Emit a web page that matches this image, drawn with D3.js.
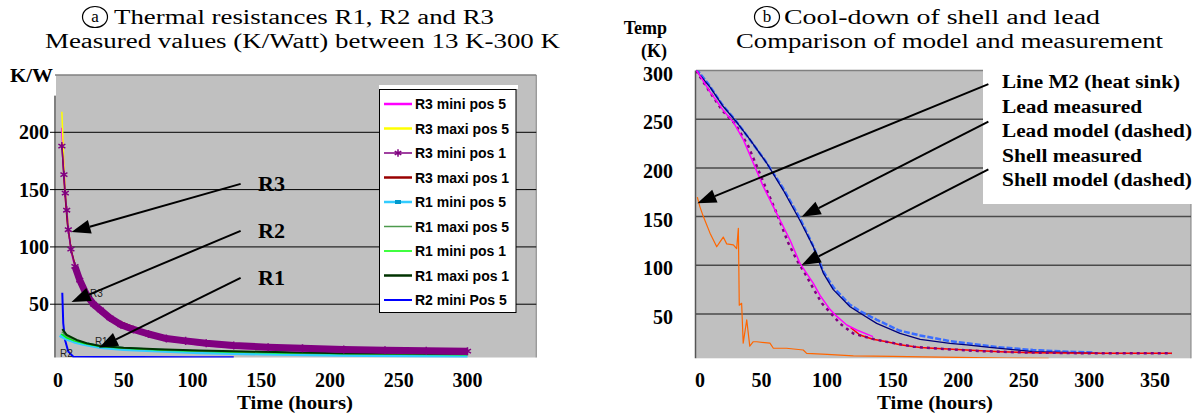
<!DOCTYPE html>
<html lang="en">
<head>
  <meta charset="UTF-8">
  <title>Thermal resistances and cool-down</title>
  <style>
    body { margin: 0; background: #fff; }
    svg { display: block; }
    .tick-lbl { font: bold 20px "Liberation Serif", "Times New Roman", serif; fill: #000; }
    .title { font: 20px "Liberation Serif", "Times New Roman", serif; fill: #000; }
    .axis-title { font: bold 18px "Liberation Serif", "Times New Roman", serif; fill: #000; }
    .leg-a { font: bold 14px "Liberation Sans", Arial, sans-serif; fill: #000; }
    .leg-b { font: bold 18px "Liberation Serif", "Times New Roman", serif; fill: #000; }
    .small { font: 10px "Liberation Sans", Arial, sans-serif; fill: #222; }
  </style>
</head>
<body>

  <div id="app"></div>

  <script src="https://cdn.jsdelivr.net/npm/d3@7/dist/d3.min.js"></script>
  <script>
    // ---- chart a : thermal resistances (hours, K/W) ----
    const r3Mini1T = [5, 6.5, 7.5, 8.5, 9.7, 11.6, 14.5, 18, 23, 28, 33, 40, 48, 57, 68, 81, 95, 110, 130, 155, 180, 210, 240, 270, 300]
    const r3Mini1V = [188, 163, 147, 132, 115, 98, 83, 71, 58, 50, 45, 38, 32, 28, 24, 20, 18, 16, 14, 12.5, 11.5, 10.5, 9.8, 9.3, 9]
    const r3Mini5T = [5, 6.5, 8, 10, 12, 15, 18, 25, 33, 45, 57, 81, 105, 130, 155, 180, 220, 260, 300]
    const r3Mini5V = [204, 165, 138, 112, 95, 80, 68, 53, 42, 32.5, 26, 18.5, 14.5, 12, 10.5, 9.5, 8.5, 7.5, 6.8]
    const r3Maxi5T = [5, 6.5, 8, 10, 12, 15, 18, 25, 33, 45, 57, 81, 105, 130, 155, 180, 220, 260, 300]
    const r3Maxi5V = [218, 170, 140, 113, 96, 81, 69, 54, 43, 33.5, 27, 19, 15, 12.6, 11, 10, 9, 8, 7.3]
    const r3Maxi1T = [5, 7, 9, 12, 16, 22, 30, 45, 70, 110, 160, 220, 300]
    const r3Maxi1V = [190, 150, 120, 96, 78, 62, 49, 36, 24, 16, 12, 10, 8.8]
    const r1Mini5T = [3.6, 5, 8.5, 14, 20.6, 33, 50, 75, 105, 150, 209, 260, 300]
    const r1Mini5V = [23, 22, 20, 17.5, 15.5, 12.6, 11, 9.5, 8, 7, 5.8, 5.2, 4.9]
    const r1Maxi5T = [5, 8.5, 15, 23, 33, 50, 75, 105, 150, 209, 300]
    const r1Maxi5V = [26, 22, 18.5, 16, 13.5, 12, 10.5, 9.2, 8.2, 7, 6.2]
    const r1Mini1T = [4.5, 8, 14, 22, 33, 50, 80, 120, 180, 250, 300]
    const r1Mini1V = [24, 21, 18, 15.5, 13, 11.5, 9.8, 8.5, 7.2, 6.3, 5.8]
    const r1Maxi1T = [5.3, 8.5, 15.8, 23, 33, 50, 75, 105, 150, 209, 260, 300]
    const r1Maxi1V = [28.2, 23.2, 18.8, 16, 13.5, 12, 10.8, 9.6, 8.5, 7.3, 6.9, 6.6]
    const r2Mini5T = [5.3, 6, 7.3, 9.7, 13.3, 30, 60, 100, 130]
    const r2Mini5V = [60, 33.4, 18.8, 8.6, 4.2, 4, 3.9, 3.8, 3.8]
    const ticksA = [50, 100, 150, 200]
    const hourTicksA = [0, 50, 100, 150, 200, 250, 300]

    // ---- chart b : cool-down (hours, K) ----
    const m2T = [1, 3, 5.6, 10.7, 15.8, 18.3, 20.8, 23.4, 28.5, 31, 32.3, 33, 34.8, 36, 38.7, 41, 43.7, 46.3, 56.4, 59, 69, 81.8, 84.4, 100, 120, 150, 173, 200, 237, 269]
    const m2V = [170, 160, 150, 133, 119, 124, 129, 122, 121, 117, 138, 59, 61, 20, 44, 17, 21.5, 21.5, 20, 14.8, 14.8, 13, 9.6, 8.5, 6.9, 6.5, 6, 5.5, 4.8, 4.5]
    const leadModelT = [0, 10, 20, 30, 40, 53, 66, 79, 89, 97, 105, 117, 125, 138, 155, 171, 194, 207, 230, 257, 280, 303]
    const leadModelV = [302, 285, 265, 249, 231, 207, 180, 149, 121, 94, 77, 60, 53, 44, 33, 28, 22, 20, 16, 13, 11.5, 10.5]
    const leadMeasT = [0, 10.7, 20.8, 31, 41.2, 53.9, 66.6, 79.3, 89.5, 97.1, 104.7, 117.5, 125, 137.8, 155.6, 171, 193.7, 206.5, 224, 257, 308]
    const leadMeasV = [300, 283, 263, 247, 229, 205, 177, 146, 119, 92, 75, 57.5, 51, 40.4, 30, 24, 19.9, 18.2, 15.8, 11.3, 9.6]
    const shellMeasT = [0, 10.7, 20.8, 28.5, 36.1, 43.7, 51.3, 61.6, 71.7, 79.3, 89.5, 94.6, 102, 107, 115, 122.6, 135]
    const shellMeasV = [301, 278, 259, 247, 229, 205, 181, 153, 126, 102, 81.5, 69, 55, 48, 38.7, 33.6, 26.7]
    const shellTailT = [118, 125, 135, 145.5, 155.6, 171, 181, 206.5, 232, 257, 308, 363]
    const shellTailV = [36, 28.4, 24, 21.5, 18.5, 15.5, 14.8, 13, 11.3, 10.3, 9.6, 9.6]
    const shellModelT = [0, 10, 20, 30, 40, 50, 55, 62, 70, 77, 83, 89.5, 96, 102, 110, 120, 133, 145, 166, 190, 215, 250, 290, 330, 363]
    const shellModelV = [300, 279, 259, 245, 222, 190, 174, 152, 124, 105, 92, 76, 61, 52, 40, 30, 25, 21.5, 16.4, 14, 12, 10.5, 9.8, 9.6, 9.6]
    const ticksB = [50, 100, 150, 200, 250, 300]
    const hourTicksB = [0, 50, 100, 150, 200, 250, 300, 350]

    const svg = d3.select('#app').append('svg')
      .attr('width', 1201)
      .attr('height', 418)

    const line = (x, y) => d3.line().x(d => x(d[0])).y(d => y(d[1]))
    const zip = (ts, vs) => ts.map((t, i) => [t, vs[i]])

    function drawSeries(g, x, y, ts, vs, color, width, dash) {
      return g.append('path')
        .datum(zip(ts, vs))
        .attr('d', line(x, y))
        .attr('fill', 'none')
        .attr('stroke', color)
        .attr('stroke-width', width)
        .attr('stroke-linejoin', 'round')
        .attr('stroke-dasharray', dash || null)
    }

    function arrow(g, x1, y1, x2, y2) {
      const a = Math.atan2(y2 - y1, x2 - x1)
      const len = 19, hw = 7
      const bx = x2 - len * Math.cos(a), by = y2 - len * Math.sin(a)
      g.append('line')
        .attr('x1', x1).attr('y1', y1).attr('x2', bx).attr('y2', by)
        .attr('stroke', '#000').attr('stroke-width', 2)
      g.append('path')
        .attr('d', `M${x2},${y2}L${bx + hw * Math.sin(a)},${by - hw * Math.cos(a)}L${bx - hw * Math.sin(a)},${by + hw * Math.cos(a)}Z`)
        .attr('fill', '#000')
    }

    function circledTitle(letter, cx, lines) {
      svg.append('ellipse')
        .attr('cx', cx).attr('cy', 17).attr('rx', 12.5).attr('ry', 10.5)
        .attr('fill', 'none').attr('stroke', '#000').attr('stroke-width', 1.2)
      svg.append('text').attr('class', 'title')
        .attr('x', cx).attr('y', 22).attr('text-anchor', 'middle')
        .style('font-size', '17px')
        .text(letter)
      lines.forEach(l => {
        svg.append('text').attr('class', 'title')
          .attr('x', l.x).attr('y', l.y)
          .attr('textLength', l.w).attr('lengthAdjust', 'spacingAndGlyphs')
          .text(l.text)
      })
    }

    // ================= chart a =================
    const xA = d3.scaleLinear().domain([0, 350]).range([55, 536.25])
    const yA = d3.scaleLinear().domain([3.5, 250]).range([357.5, 75])
    const gA = svg.append('g')

    circledTitle('a', 95, [
      { text: 'Thermal resistances R1, R2 and R3', x: 114, y: 24, w: 380 },
      { text: 'Measured values (K/Watt) between 13 K-300 K', x: 45, y: 48, w: 515 }
    ])

    gA.append('rect')
      .attr('x', xA(0) + 1).attr('y', yA(250))
      .attr('width', xA(350) - xA(0) - 1).attr('height', yA(3.5) - yA(250))
      .attr('fill', '#c0c0c0')
    gA.append('line')
      .attr('x1', xA(0)).attr('x2', xA(350)).attr('y1', yA(250)).attr('y2', yA(250))
      .attr('stroke', '#808080').attr('stroke-width', 1.5)
    gA.append('line')
      .attr('x1', xA(350)).attr('x2', xA(350)).attr('y1', yA(250)).attr('y2', yA(3.5))
      .attr('stroke', '#808080')

    gA.selectAll('.grid').data(ticksA).enter().append('line')
      .attr('x1', xA(0) - 5).attr('x2', xA(350))
      .attr('y1', d => yA(d)).attr('y2', d => yA(d))
      .attr('stroke', '#000').attr('stroke-width', 1)
    gA.append('line')
      .attr('x1', xA(0)).attr('x2', xA(0)).attr('y1', yA(232)).attr('y2', yA(3.5))
      .attr('stroke', '#000')

    gA.selectAll('.ylbl').data(ticksA).enter().append('text')
      .attr('class', 'tick-lbl')
      .attr('x', 49).attr('y', d => yA(d) + 7)
      .attr('text-anchor', 'end')
      .text(d => d)
    gA.selectAll('.xlbl').data(hourTicksA).enter().append('text')
      .attr('class', 'tick-lbl')
      .attr('x', d => xA(d) + (d === 0 ? 3 : 0)).attr('y', 387)
      .attr('text-anchor', 'middle')
      .text(d => d)
    gA.append('text').attr('class', 'axis-title')
      .attr('x', 237).attr('y', 409)
      .attr('textLength', 116).attr('lengthAdjust', 'spacingAndGlyphs')
      .text('Time (hours)')
    gA.append('text').attr('class', 'axis-title')
      .attr('x', 10).attr('y', 82)
      .attr('textLength', 43).attr('lengthAdjust', 'spacingAndGlyphs')
      .text('K/W')

    svg.append('clipPath').attr('id', 'clipA').append('rect')
      .attr('x', xA(0) + 1).attr('y', yA(250))
      .attr('width', xA(350) - xA(0) - 1).attr('height', yA(3.5) - yA(250))
    const plotA = gA.append('g').attr('clip-path', 'url(#clipA)')

    drawSeries(plotA, xA, yA, r2Mini5T, r2Mini5V, '#0000ff', 2)
    drawSeries(plotA, xA, yA, r1Mini5T, r1Mini5V, '#33ccff', 4)
    drawSeries(plotA, xA, yA, r1Mini1T, r1Mini1V, '#00ff00', 1.5)
    drawSeries(plotA, xA, yA, r1Maxi5T, r1Maxi5V, '#4d9a4d', 1.5)
    drawSeries(plotA, xA, yA, r1Maxi1T, r1Maxi1V, '#003300', 2)
    drawSeries(plotA, xA, yA, r3Mini5T, r3Mini5V, '#ff00ff', 1.8)
    drawSeries(plotA, xA, yA, r3Maxi5T, r3Maxi5V, '#ffff00', 1.5)
    drawSeries(plotA, xA, yA, r3Maxi1T, r3Maxi1V, '#990000', 1.5)
    drawSeries(plotA, xA, yA, r3Mini1T.slice(6), r3Mini1V.slice(6), '#800080', 7)
    drawSeries(plotA, xA, yA, r3Mini1T, r3Mini1V, '#800080', 1.5)
    plotA.selectAll('.star').data(zip(r3Mini1T, r3Mini1V)).enter().append('path')
      .attr('d', d3.symbol(d3.symbolAsterisk, 45))
      .attr('transform', d => `translate(${xA(d[0])},${yA(d[1])})`)
      .attr('fill', 'none').attr('stroke', '#800080').attr('stroke-width', 1.5)

    // small data labels inside plot
    gA.append('text').attr('class', 'small').attr('x', xA(25.5)).attr('y', yA(59.7) + 4).text('R3')
    gA.append('text').attr('class', 'small').attr('x', xA(29)).attr('y', yA(17.9) + 4).text('R1')
    gA.append('text').attr('class', 'small').attr('x', xA(3.6)).attr('y', yA(7.4) + 4).text('R2')

    // arrows + labels
    const arrowsA = [
      { label: 'R3', from: [135, 155], to: [12, 113] },
      { label: 'R2', from: [135, 114], to: [12, 52] },
      { label: 'R1', from: [135, 73], to: [32, 12] }
    ]
    arrowsA.forEach(a => {
      arrow(gA, xA(a.from[0]), yA(a.from[1]), xA(a.to[0]), yA(a.to[1]))
      gA.append('text').attr('class', 'tick-lbl')
        .attr('x', xA(147.6)).attr('y', yA(a.from[1]) + 7)
        .attr('textLength', 27).attr('lengthAdjust', 'spacingAndGlyphs')
        .text(a.label)
    })

    // legend a
    const legendA = [
      { name: 'R3 mini pos 5', color: '#ff00ff', w: 2.5 },
      { name: 'R3 maxi pos 5', color: '#ffff00', w: 2.5 },
      { name: 'R3 mini pos 1', color: '#800080', w: 1.5, star: true },
      { name: 'R3 maxi pos 1', color: '#990000', w: 2.5 },
      { name: 'R1 mini pos 5', color: '#33ccff', w: 2.5, dash: true },
      { name: 'R1 maxi pos 5', color: '#4d9a4d', w: 1.5 },
      { name: 'R1 mini pos 1', color: '#00ff00', w: 1.5 },
      { name: 'R1 maxi pos 1', color: '#003300', w: 2.5 },
      { name: 'R2 mini Pos 5', color: '#0000ff', w: 2 }
    ]
    const legA = gA.append('g')
    legA.append('rect').attr('x', 379).attr('y', 85).attr('width', 139).attr('height', 4).attr('fill', '#fff')
    legA.append('rect')
      .attr('x', 379.5).attr('y', 89.5).attr('width', 136.5).attr('height', 223)
      .attr('fill', '#fff').attr('stroke', '#000')
    const rowsA = legA.selectAll('.row').data(legendA).enter().append('g')
      .attr('transform', (d, i) => `translate(0, ${104 + i * 24.5})`)
    rowsA.append('line')
      .attr('x1', 384).attr('x2', 412).attr('y1', 0).attr('y2', 0)
      .attr('stroke', d => d.color).attr('stroke-width', d => d.w)
    rowsA.filter(d => d.star).append('path')
      .attr('d', d3.symbol(d3.symbolAsterisk, 40))
      .attr('transform', 'translate(398,0)')
      .attr('fill', 'none').attr('stroke', '#800080').attr('stroke-width', 1.5)
    rowsA.filter(d => d.dash).append('rect')
      .attr('x', 395).attr('y', -2).attr('width', 6).attr('height', 4).attr('fill', '#0099cc')
    rowsA.append('text').attr('class', 'leg-a')
      .attr('x', 415).attr('y', 5)
      .text(d => d.name)

    // ================= chart b =================
    const xB = d3.scaleLinear().domain([0, 350]).range([696, 1154.9])
    const yB = d3.scaleLinear().domain([4.5, 300]).range([358.3, 70.5])
    const gB = svg.append('g')

    circledTitle('b', 767, [
      { text: 'Cool-down of shell and lead', x: 784, y: 24, w: 316 },
      { text: 'Comparison of model and measurement', x: 736, y: 48, w: 427 }
    ])

    const xEndB = xB.invert(1191)
    gB.append('rect')
      .attr('x', xB(0)).attr('y', yB(300))
      .attr('width', xB(xEndB) - xB(0)).attr('height', yB(4.5) - yB(300))
      .attr('fill', '#c0c0c0')
    gB.append('line')
      .attr('x1', xB(0)).attr('x2', xB(xEndB)).attr('y1', yB(300)).attr('y2', yB(300))
      .attr('stroke', '#808080').attr('stroke-width', 1.5)
    gB.append('line')
      .attr('x1', xB(0) - 0.5).attr('x2', xB(0) - 0.5).attr('y1', yB(300)).attr('y2', yB(4.5))
      .attr('stroke', '#555').attr('stroke-width', 1.5)
    gB.append('line')
      .attr('x1', xB(xEndB)).attr('x2', xB(xEndB)).attr('y1', yB(300)).attr('y2', yB(4.5))
      .attr('stroke', '#808080')
    gB.selectAll('.grid').data(ticksB.filter(d => d < 300)).enter().append('line')
      .attr('x1', xB(0)).attr('x2', xB(xEndB))
      .attr('y1', d => yB(d)).attr('y2', d => yB(d))
      .attr('stroke', '#4a4a4a').attr('stroke-width', 1.5)

    gB.selectAll('.ylbl').data(ticksB).enter().append('text')
      .attr('class', 'tick-lbl')
      .attr('x', 673).attr('y', d => yB(d) + 10)
      .attr('text-anchor', 'end')
      .text(d => d)
    gB.selectAll('.xlbl').data(hourTicksB).enter().append('text')
      .attr('class', 'tick-lbl')
      .attr('x', d => xB(d) + (d === 0 ? 4 : 0)).attr('y', 387)
      .attr('text-anchor', 'middle')
      .text(d => d)
    gB.append('text').attr('class', 'axis-title')
      .attr('x', 877).attr('y', 409)
      .attr('textLength', 116).attr('lengthAdjust', 'spacingAndGlyphs')
      .text('Time (hours)')
    gB.append('text').attr('class', 'axis-title')
      .attr('x', 667).attr('y', 34).attr('text-anchor', 'end')
      .text('Temp')
    gB.append('text').attr('class', 'axis-title')
      .attr('x', 667).attr('y', 57).attr('text-anchor', 'end')
      .text('(K)')

    svg.append('clipPath').attr('id', 'clipB').append('rect')
      .attr('x', xB(0)).attr('y', yB(300))
      .attr('width', xB(xEndB) - xB(0)).attr('height', yB(4.5) - yB(300))
    const plotB = gB.append('g').attr('clip-path', 'url(#clipB)')

    drawSeries(plotB, xB, yB, m2T, m2V, '#ff6600', 1.2)
    drawSeries(plotB, xB, yB, leadModelT, leadModelV, '#3a6dff', 2.5, '6,2')
    drawSeries(plotB, xB, yB, leadMeasT, leadMeasV, '#00007a', 1.3)
    drawSeries(plotB, xB, yB, shellTailT, shellTailV, '#ff0000', 1.5)
    drawSeries(plotB, xB, yB, shellModelT, shellModelV, '#800080', 2.5, '3,4')
    drawSeries(plotB, xB, yB, shellMeasT, shellMeasV, '#ff00ff', 1.5)

    // legend b (white box with text)
    gB.append('rect')
      .attr('x', 983).attr('y', 62).attr('width', 218).attr('height', 142)
      .attr('fill', '#fff')
    const legendB = ['Line M2 (heat sink)', 'Lead measured', 'Lead model (dashed)', 'Shell measured', 'Shell model (dashed)']
    const legendBW = [178, 140, 190, 140, 190]
    gB.selectAll('.legb').data(legendB).enter().append('text')
      .attr('class', 'leg-b')
      .attr('x', 1002).attr('y', (d, i) => 88 + i * 24.5)
      .attr('textLength', (d, i) => legendBW[i]).attr('lengthAdjust', 'spacingAndGlyphs')
      .text(d => d)

    const arrowsB = [
      { from: [223, 286], to: [1, 163.6] },
      { from: [223, 247.4], to: [80.6, 149.9] },
      { from: [223, 198.5], to: [80.6, 100.3] }
    ]
    arrowsB.forEach(a => arrow(gB, xB(a.from[0]), yB(a.from[1]), xB(a.to[0]), yB(a.to[1])))
  </script>
</body>
</html>
